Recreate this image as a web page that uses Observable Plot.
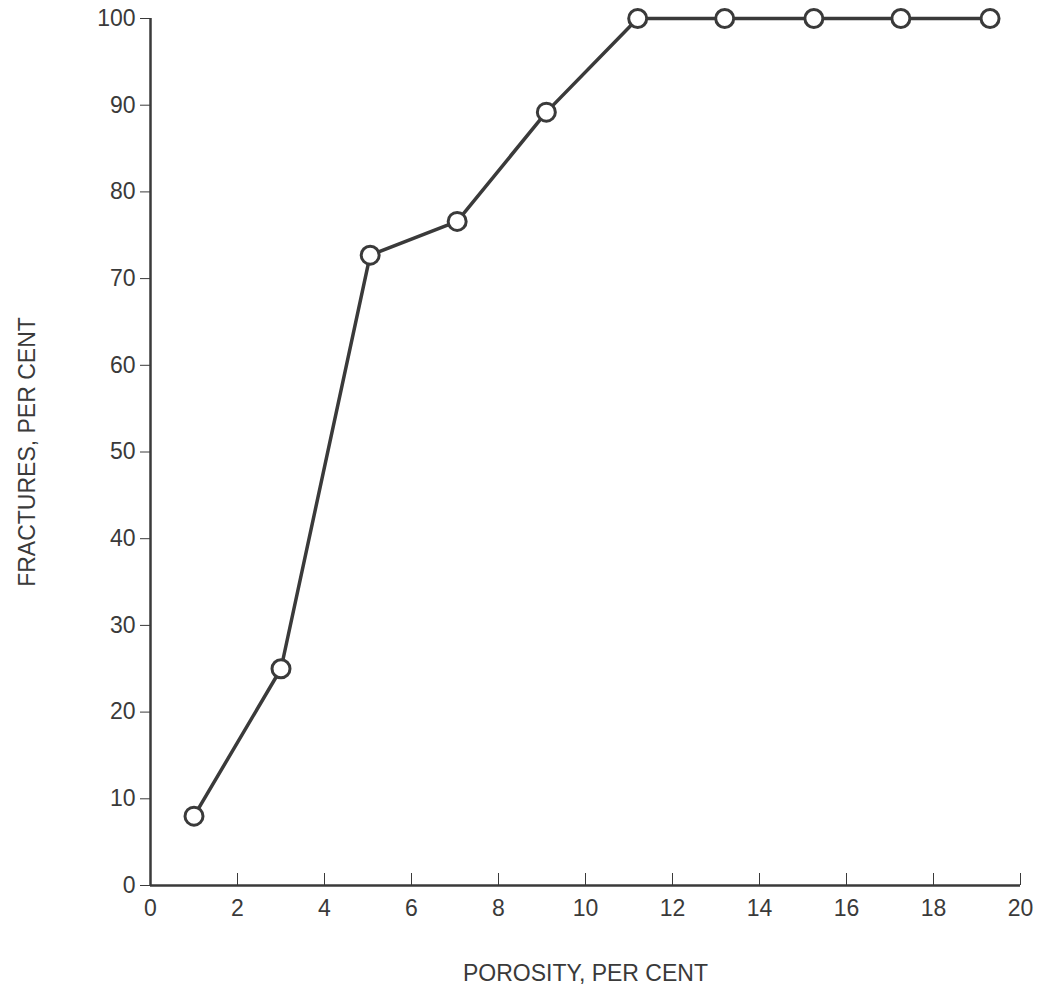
<!DOCTYPE html>
<html><head><meta charset="utf-8">
<script src="https://cdn.jsdelivr.net/npm/d3@7"></script>
<script src="https://cdn.jsdelivr.net/npm/@observablehq/plot@0.6"></script>
<style>body{margin:0;background:#fff}</style>
</head><body><div id="chart"></div>
<script>
// porosity vs fractures
const porosity = [1, 3, 5.05, 7.05, 9.1, 11.2, 13.2, 15.25, 17.25, 19.3]
const fractures = [8, 25, 72.7, 76.6, 89.2, 100, 100, 100, 100, 100]
const xTicks = [0, 2, 4, 6, 8, 10, 12, 14, 16, 18, 20]
const yTicks = [0, 10, 20, 30, 40, 50, 60, 70, 80, 90, 100]

const data = porosity.map((p, i) => ({p, f: fractures[i]}))
const ink = "#3a3a3a"

let chart = Plot.plot({
  width: 1050, height: 996,
  marginLeft: 150, marginRight: 30, marginTop: 18, marginBottom: 111,
  style: {fontFamily: "Liberation Sans, Arial, sans-serif", fontSize: "23px", color: ink},
  x: {domain: [0, 20]},
  y: {domain: [0, 100]},
  marks: [
    Plot.axisX({ticks: xTicks, tickSize: -12, tickPadding: 26, fontSize: 23, label: "POROSITY, PER CENT", labelAnchor: "center", labelOffset: 95, labelArrow: "none", tickFormat: d => d}),
    Plot.axisY({ticks: yTicks, tickSize: 10, tickPadding: 5, fontSize: 23, label: "FRACTURES, PER CENT", labelAnchor: "center", labelOffset: 132, labelArrow: "none"}),
    Plot.ruleX([0], {stroke: ink, strokeWidth: 2.5}),
    Plot.ruleY([0], {stroke: ink, strokeWidth: 2.5}),
    Plot.line(data, {x: "p", y: "f", stroke: ink, strokeWidth: 3.5}),
    Plot.dot(data, {x: "p", y: "f", r: 9, fill: "white", stroke: ink, strokeWidth: 3})
  ]
})
d3.select('#chart').append(() => chart)
</script>
</body></html>
